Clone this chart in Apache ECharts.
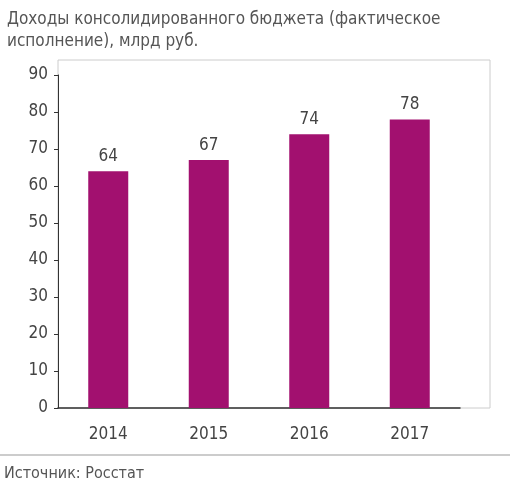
<!DOCTYPE html>
<html><head><meta charset="utf-8">
<script src="https://cdn.jsdelivr.net/npm/echarts@6/dist/echarts.min.js"></script>
<style>body{margin:0;background:#fff}#c{width:510px;height:500px}</style>
</head><body><div id="c"></div>
<script>
var years = ['2014', '2015', '2016', '2017'];
var revenue = [64, 67, 74, 78];
var yTicks = {min: 0, max: 90, interval: 10};

var font = '"Liberation Sans Narrow","DejaVu Sans Condensed","Roboto",sans-serif';
var chart = echarts.init(document.getElementById('c'));
chart.setOption({
  animation: false,
  title: {
    text: 'Доходы консолидированного бюджета (фактическое\nисполнение), млрд руб.',
    left: 2, top: 4,
    textStyle: {fontFamily: font, fontSize: 17, fontWeight: 'normal', color: '#555', lineHeight: 22}
  },
  grid: {left: 58, right: 50, top: 75, bottom: 92},
  graphic: [
    {type: 'rect', shape: {x: 58, y: 60, width: 432, height: 348}, style: {fill: 'none', stroke: '#ccc', lineWidth: 1}},
    {type: 'line', shape: {x1: 0, y1: 455, x2: 510, y2: 455}, style: {stroke: '#999', lineWidth: 1}},
    {type: 'text', left: 4, top: 466, style: {text: 'Источник: Росстат', font: '16px ' + font, fill: '#555'}}
  ],
  xAxis: {
    type: 'category', data: years,
    axisLine: {lineStyle: {color: '#333', width: 1.5}},
    axisTick: {show: false},
    axisLabel: {fontFamily: font, fontSize: 17, color: '#444', margin: 18}
  },
  yAxis: {
    type: 'value', min: yTicks.min, max: yTicks.max, interval: yTicks.interval,
    axisLine: {show: true, lineStyle: {color: '#333'}},
    axisTick: {show: true, length: 4, lineStyle: {color: '#333'}},
    splitLine: {show: false},
    axisLabel: {fontFamily: font, fontSize: 17, color: '#444', margin: 10}
  },
  series: [{
    type: 'bar', data: revenue, barWidth: 40,
    itemStyle: {color: '#A2106F'},
    label: {show: true, position: 'top', distance: 6, fontFamily: font, fontSize: 17, color: '#444'}
  }]
});
</script></body></html>
